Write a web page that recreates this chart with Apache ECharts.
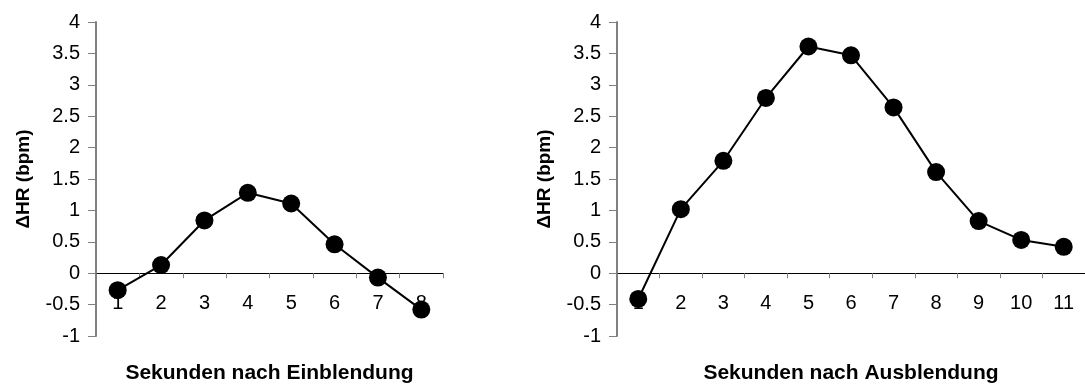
<!DOCTYPE html>
<html>
<head>
<meta charset="utf-8">
<script src="https://cdn.jsdelivr.net/npm/echarts@6/dist/echarts.min.js"></script>
<style>
  html, body { margin: 0; padding: 0; background: #fff; }
  #chart { width: 1085px; height: 385px; }
</style>
</head>
<body>
<div id="chart"></div>
<script>
// Sekunden nach Einblendung / Ausblendung
var secondsOn = ['1', '2', '3', '4', '5', '6', '7', '8'];
var hrOn = [-0.27, 0.13, 0.84, 1.28, 1.11, 0.46, -0.07, -0.58];

var secondsOff = ['1', '2', '3', '4', '5', '6', '7', '8', '9', '10', '11'];
var hrOff = [-0.41, 1.02, 1.79, 2.79, 3.61, 3.47, 2.64, 1.61, 0.83, 0.53, 0.42];

var fontFam = 'Liberation Sans, Arial, sans-serif';

// x axis sits at y = 0 -> shift it up from the grid bottom (1 of 5 units of 314px)
function makeX(idx, cats, title) {
  return {
    type: 'category',
    gridIndex: idx,
    data: cats,
    boundaryGap: true,
    offset: -62.8,
    axisLine: { onZero: false, lineStyle: { color: '#000', width: 1 } },
    axisTick: { show: true, length: 5, lineStyle: { color: '#808080', width: 1 } },
    axisLabel: { color: '#000', fontSize: 20, fontFamily: fontFam, margin: 20 },
    name: title,
    nameLocation: 'middle',
    nameGap: 90,
    nameTextStyle: { color: '#000', fontSize: 21, fontWeight: 'bold', fontFamily: fontFam },
    splitLine: { show: false }
  };
}

function makeY(idx) {
  return {
    type: 'value',
    gridIndex: idx,
    min: -1,
    max: 4,
    interval: 0.5,
    axisLine: { show: true, lineStyle: { color: '#808080', width: 2 } },
    axisTick: { show: true, length: 8, lineStyle: { color: '#808080', width: 1 } },
    axisLabel: { color: '#000', fontSize: 20, fontFamily: fontFam, margin: 16 },
    splitLine: { show: false },
    name: 'ΔHR (bpm)',
    nameLocation: 'middle',
    nameRotate: 90,
    nameGap: 63,
    nameTextStyle: { color: '#000', fontSize: 19, fontWeight: 'bold', fontFamily: fontFam }
  };
}

function makeSeries(idx, vals) {
  return {
    type: 'line',
    xAxisIndex: idx,
    yAxisIndex: idx,
    data: vals,
    symbol: 'circle',
    symbolSize: 18,
    itemStyle: { color: '#000' },
    lineStyle: { color: '#000', width: 2 },
    animation: false
  };
}

var chart = echarts.init(document.getElementById('chart'));
chart.setOption({
  animation: false,
  grid: [
    { left: 96, top: 22, width: 347, height: 314, containLabel: false, outerBoundsMode: 'none' },
    { left: 617, top: 22, width: 468, height: 314, containLabel: false, outerBoundsMode: 'none' }
  ],
  xAxis: [
    makeX(0, secondsOn, 'Sekunden nach Einblendung'),
    makeX(1, secondsOff, 'Sekunden nach Ausblendung')
  ],
  yAxis: [makeY(0), makeY(1)],
  series: [makeSeries(0, hrOn), makeSeries(1, hrOff)]
});
</script>
</body>
</html>
